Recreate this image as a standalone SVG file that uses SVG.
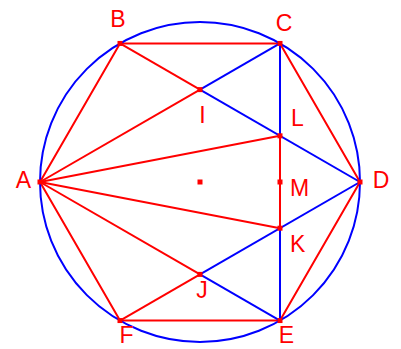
<svg xmlns="http://www.w3.org/2000/svg" width="401" height="349" viewBox="0 0 401 349">
<style>
.r{stroke:#ff0000;stroke-width:2;fill:none}
.b{stroke:#0000ff;stroke-width:2;fill:none}
.lbl{font-family:"Liberation Sans",Arial,sans-serif;font-size:23px;fill:#ff0000}
.pt{fill:#ff0000}
</style>
<rect width="401" height="349" fill="#ffffff"/>
<g id="connectors">
<g class="r">
<polygon points="40,182 120,43.44 280,43.44 360,182 280,320.56 120,320.56"/>
<line x1="40" y1="182" x2="200" y2="89.62"/>
<line x1="120" y1="43.44" x2="200" y2="89.62"/>
<line x1="40" y1="182" x2="280" y2="135.81"/>
<line x1="40" y1="182" x2="280" y2="228.19"/>
<line x1="40" y1="182" x2="200" y2="274.38"/>
<line x1="120" y1="320.56" x2="200" y2="274.38"/>
<line x1="280" y1="135.81" x2="280" y2="228.19"/>
</g>
<g class="b">
<line x1="280" y1="43.44" x2="200" y2="89.62"/>
<line x1="200" y1="89.62" x2="360" y2="182"/>
<line x1="280" y1="43.44" x2="280" y2="135.81"/>
<line x1="280" y1="228.19" x2="280" y2="320.56"/>
<line x1="360" y1="182" x2="200" y2="274.38"/>
<line x1="200" y1="274.38" x2="280" y2="320.56"/>
<circle cx="200" cy="182" r="160"/>
</g>
</g>
<g id="A"><rect class="pt" x="37.5" y="179.5" width="5" height="5"/><text class="lbl" x="23.5" y="188" text-anchor="middle">A</text></g>
<g id="B"><rect class="pt" x="117.5" y="40.94" width="5" height="5"/><text class="lbl" x="118" y="27" text-anchor="middle">B</text></g>
<g id="C"><rect class="pt" x="277.5" y="40.94" width="5" height="5"/><text class="lbl" x="284" y="31" text-anchor="middle">C</text></g>
<g id="D"><rect class="pt" x="357.5" y="179.5" width="5" height="5"/><text class="lbl" x="381" y="188" text-anchor="middle">D</text></g>
<g id="E"><rect class="pt" x="277.5" y="318.06" width="5" height="5"/><text class="lbl" x="286.5" y="343" text-anchor="middle">E</text></g>
<g id="F"><rect class="pt" x="117.5" y="318.06" width="5" height="5"/><text class="lbl" x="126.5" y="343" text-anchor="middle">F</text></g>
<g id="I"><rect class="pt" x="197.5" y="87.12" width="5" height="5"/><text class="lbl" x="202.5" y="123" text-anchor="middle">I</text></g>
<g id="L"><rect class="pt" x="277.5" y="133.31" width="5" height="5"/><text class="lbl" x="291" y="126">L</text></g>
<g id="M"><rect class="pt" x="277.5" y="179.5" width="5" height="5"/><text class="lbl" x="290" y="196">M</text></g>
<g id="K"><rect class="pt" x="277.5" y="225.69" width="5" height="5"/><text class="lbl" x="290" y="252">K</text></g>
<g id="J"><rect class="pt" x="197.5" y="271.88" width="5" height="5"/><text class="lbl" x="202" y="298" text-anchor="middle">J</text></g>
<g id="O"><rect class="pt" x="197.5" y="179.5" width="5" height="5"/></g>
</svg>
